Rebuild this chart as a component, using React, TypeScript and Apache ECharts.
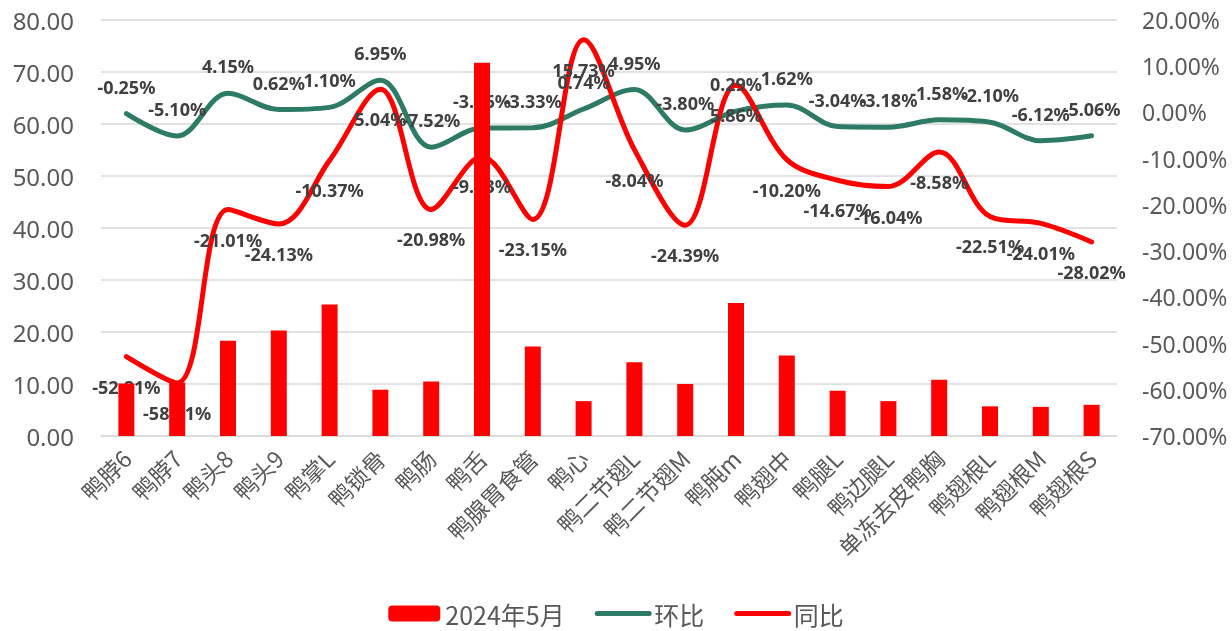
import React, { useEffect, useRef } from 'react';
import * as echarts from 'echarts';

const categories = ['鸭脖6', '鸭脖7', '鸭头8', '鸭头9', '鸭掌L', '鸭锁骨', '鸭肠', '鸭舌', '鸭腺胃食管', '鸭心', '鸭二节翅L', '鸭二节翅M', '鸭肫m', '鸭翅中', '鸭腿L', '鸭边腿L', '单冻去皮鸭胸', '鸭翅根L', '鸭翅根M', '鸭翅根S'];
const volume = [10.1, 10.3, 18.3, 20.3, 25.3, 8.9, 10.5, 71.8, 17.2, 6.7, 14.2, 10.0, 25.6, 15.5, 8.7, 6.7, 10.8, 5.7, 5.6, 6.0];
const mom = [-0.25, -5.10, 4.15, 0.62, 1.10, 6.95, -7.52, -3.36, -3.33, 0.74, 4.95, -3.80, 0.29, 1.62, -3.04, -3.18, -1.58, -2.10, -6.12, -5.06];
const yoy = [-52.81, -58.51, -21.01, -24.13, -10.37, 5.04, -20.98, -9.53, -23.15, 15.73, -8.04, -24.39, 5.86, -10.20, -14.67, -16.04, -8.58, -22.51, -24.01, -28.02];

const FONT = "'Noto Sans', 'Noto Sans CJK SC', sans-serif";
const CJK = "'Noto Sans CJK SC', sans-serif";
const GREEN = '#2E7B65';
const RED = '#FF0000';

export default function App() {
  const ref = useRef<HTMLDivElement>(null);
  useEffect(() => {
    if (!ref.current) return;
    const chart = echarts.init(ref.current, undefined, { renderer: 'svg' });
    const pct = (p: any) => Number(p.value).toFixed(2) + '%';
    const lineLabel = (position: string, distance: number) => ({
      show: true,
      position,
      distance,
      formatter: pct,
      fontSize: 18,
      fontWeight: 'bold',
      color: '#404040',
    });
    chart.setOption({
      animation: false,
      textStyle: { fontFamily: FONT },
      grid: { left: 101, right: 115, top: 20, bottom: 195, containLabel: false },
      legend: {
        top: 596,
        left: 'center',
        itemWidth: 52,
        itemHeight: 16,
        itemGap: 30,
        textStyle: { fontSize: 25, color: '#595959', fontFamily: CJK },
        data: [
          { name: '2024年5月' },
          { name: '环比', itemStyle: { opacity: 0 }, lineStyle: { width: 5, cap: 'round', color: GREEN } },
          { name: '同比', itemStyle: { opacity: 0 }, lineStyle: { width: 5, cap: 'round', color: RED } },
        ],
      },
      xAxis: {
        type: 'category',
        data: categories,
        axisLine: { lineStyle: { color: '#D9D9D9', width: 1.5 } },
        axisTick: { show: false },
        axisLabel: {
          rotate: 45,
          interval: 0,
          fontSize: 23,
          color: '#595959',
          margin: 18,
          fontFamily: CJK,
        },
      },
      yAxis: [
        {
          type: 'value',
          min: 0,
          max: 80,
          interval: 10,
          axisLine: { show: false },
          axisTick: { show: false },
          axisLabel: {
            formatter: (v: number) => v.toFixed(2),
            fontSize: 24,
            color: '#595959',
            margin: 27,
          },
          splitLine: { lineStyle: { color: '#D9D9D9', width: 1.5 } },
        },
        {
          type: 'value',
          min: -70,
          max: 20,
          interval: 10,
          position: 'right',
          axisLine: { show: false },
          axisTick: { show: false },
          axisLabel: {
            formatter: (v: number) => v.toFixed(2) + '%',
            fontSize: 23,
            color: '#595959',
            margin: 25,
          },
          splitLine: { show: false },
        },
      ],
      series: [
        {
          name: '2024年5月',
          type: 'bar',
          yAxisIndex: 0,
          data: volume,
          barWidth: 16,
          itemStyle: { color: RED },
          z: 5,
        },
        {
          name: '环比',
          type: 'line',
          yAxisIndex: 1,
          data: mom,
          smooth: 0.35,
          symbol: 'circle',
          symbolSize: 0.01,
          showSymbol: true,
          color: GREEN,
          lineStyle: { width: 5, color: GREEN, cap: 'round' },
          label: lineLabel('top', 18),
          z: 2,
        },
        {
          name: '同比',
          type: 'line',
          yAxisIndex: 1,
          data: yoy,
          smooth: 0.35,
          symbol: 'circle',
          symbolSize: 0.01,
          showSymbol: true,
          color: RED,
          lineStyle: { width: 5, color: RED, cap: 'round' },
          label: lineLabel('bottom', 21),
          z: 2,
        },
      ],
    });
    return () => chart.dispose();
  }, []);
  return <div ref={ref} style={{ position: 'fixed', left: 0, top: 0, width: 1232, height: 631 }} />;
}
